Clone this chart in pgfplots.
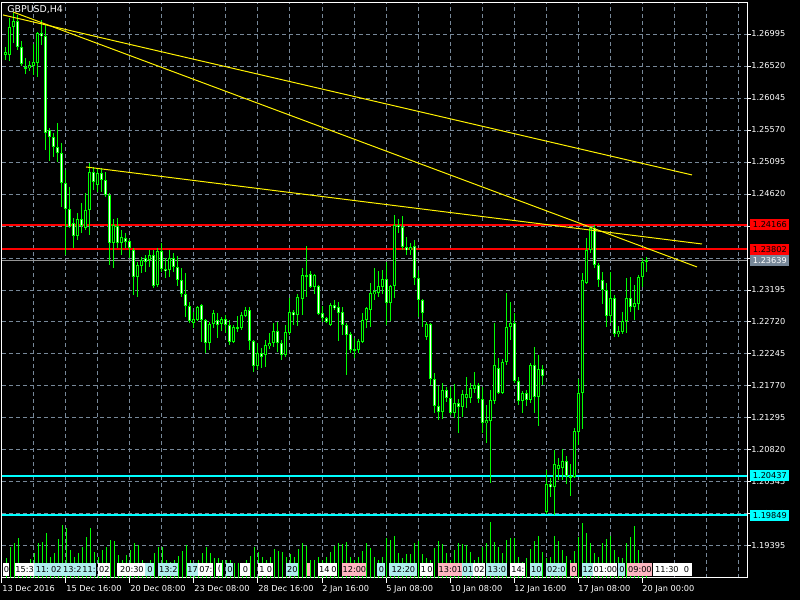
\documentclass[border=0pt]{standalone}
\usepackage{fontspec}
\setmainfont{DejaVu Sans}
\usepackage{pgfplots}
\usepackage{pgfplotstable}
\pgfplotsset{compat=1.18}

\definecolor{mtgreen}{RGB}{0,255,0}
\definecolor{mtgrid}{RGB}{119,136,153}
\definecolor{mtcyan}{RGB}{0,255,255}
\definecolor{bidgray}{RGB}{150,150,150}
\definecolor{bidbox}{RGB}{119,136,153}
\definecolor{lblcyan}{RGB}{175,238,238}
\definecolor{lblpink}{RGB}{255,182,193}
\definecolor{arrowblue}{RGB}{0,191,255}
\definecolor{sellred}{RGB}{230,60,30}

% GBPUSD H4 bars: index, open, high, low, close, tick volume
\pgfplotstableread{
i o h l c v
0 1.26684 1.26802 1.26609 1.26728 2000
1 1.26684 1.27233 1.26594 1.27099 3100
2 1.27099 1.27307 1.26861 1.27188 3500
3 1.27188 1.27278 1.26758 1.26802 4000
4 1.26802 1.26891 1.26520 1.26550 1500
5 1.26505 1.26639 1.26402 1.26490 1200
6 1.26490 1.26594 1.26446 1.26535 1900
7 1.26520 1.26847 1.26387 1.26579 2500
8 1.26564 1.27025 1.26357 1.27010 3500
9 1.27010 1.27203 1.26832 1.26966 3600
10 1.26966 1.27129 1.25274 1.25526 4500
11 1.25571 1.25600 1.25110 1.25467 2100
12 1.25467 1.25526 1.25170 1.25318 2500
13 1.25318 1.25674 1.25095 1.25229 3900
14 1.25229 1.25377 1.24427 1.24783 5300
15 1.24783 1.24977 1.23715 1.24397 5000
16 1.24397 1.24724 1.24115 1.24130 2800
17 1.24189 1.24264 1.23818 1.23997 2100
18 1.23997 1.24338 1.23937 1.24249 2500
19 1.24249 1.24486 1.24041 1.24145 3100
20 1.24115 1.24635 1.24086 1.24383 4100
21 1.24383 1.25080 1.24012 1.24947 5000
22 1.24947 1.25021 1.24680 1.24798 2600
23 1.24754 1.25006 1.24650 1.24932 2100
24 1.24932 1.25006 1.24650 1.24828 2800
25 1.24828 1.24947 1.24576 1.24606 3100
26 1.24606 1.24635 1.23566 1.23892 3800
27 1.23892 1.24249 1.23521 1.24160 3700
28 1.24145 1.24264 1.23818 1.23892 2300
29 1.23892 1.24086 1.23715 1.23982 1800
30 1.23967 1.24041 1.23818 1.23907 2300
31 1.23922 1.23952 1.23670 1.23818 2800
32 1.23789 1.23818 1.23121 1.23388 3500
33 1.23388 1.23611 1.23091 1.23566 3300
34 1.23551 1.23685 1.23447 1.23640 1800
35 1.23670 1.23715 1.23462 1.23611 1500
36 1.23640 1.23789 1.23537 1.23715 1800
37 1.23715 1.23789 1.23225 1.23254 2500
38 1.23269 1.23818 1.23240 1.23774 3100
39 1.23774 1.23892 1.23462 1.23507 3100
40 1.23507 1.23670 1.23374 1.23477 1800
41 1.23492 1.23789 1.23388 1.23670 1600
42 1.23670 1.23744 1.23462 1.23537 1800
43 1.23537 1.23700 1.23254 1.23344 2200
44 1.23344 1.23521 1.23091 1.23136 2700
45 1.23136 1.23447 1.22795 1.22958 3300
46 1.22958 1.23017 1.22705 1.22735 1800
47 1.22705 1.22869 1.22631 1.22765 1500
48 1.22750 1.22958 1.22735 1.22943 1800
49 1.22973 1.22988 1.22423 1.22750 2500
50 1.22750 1.22765 1.22260 1.22408 3100
51 1.22408 1.22720 1.22305 1.22690 2500
52 1.22690 1.22899 1.22631 1.22854 2000
53 1.22750 1.22854 1.22483 1.22676 2000
54 1.22690 1.22795 1.22586 1.22765 1800
55 1.22765 1.22824 1.22557 1.22676 1800
56 1.22676 1.22750 1.22378 1.22423 1800
57 1.22423 1.22676 1.22408 1.22646 1500
58 1.22646 1.22809 1.22572 1.22631 1500
59 1.22631 1.22869 1.22601 1.22824 1500
60 1.22809 1.22943 1.22795 1.22899 1800
61 1.22899 1.22943 1.22305 1.22438 2200
62 1.22438 1.22453 1.21978 1.22067 3100
63 1.22067 1.22408 1.22008 1.22260 2600
64 1.22260 1.22334 1.22037 1.22201 2100
65 1.22230 1.22453 1.22052 1.22378 1800
66 1.22364 1.22557 1.22319 1.22408 2100
67 1.22408 1.22705 1.22349 1.22586 2900
68 1.22586 1.22720 1.22275 1.22408 2700
69 1.22408 1.22453 1.22156 1.22230 2600
70 1.22230 1.22676 1.22201 1.22572 2100
71 1.22557 1.23076 1.22527 1.22869 2400
72 1.22869 1.22899 1.22676 1.22824 2100
73 1.22824 1.23136 1.22661 1.23091 2900
74 1.23062 1.23521 1.22824 1.23418 3500
75 1.23418 1.23848 1.23091 1.23403 3200
76 1.23433 1.23477 1.23225 1.23240 1800
77 1.23240 1.23433 1.23136 1.23418 1800
78 1.23254 1.23269 1.22824 1.22839 2100
79 1.22854 1.22958 1.22720 1.22780 1800
80 1.22780 1.22795 1.22705 1.22720 2100
81 1.22676 1.23002 1.22661 1.22973 2600
82 1.22973 1.23047 1.22899 1.22928 3200
83 1.22943 1.23017 1.22438 1.22854 3500
84 1.22869 1.22943 1.22527 1.22676 3400
85 1.22676 1.22705 1.21934 1.22527 3600
86 1.22542 1.22572 1.22260 1.22305 2100
87 1.22305 1.22483 1.22186 1.22319 1800
88 1.22305 1.22468 1.22260 1.22438 2100
89 1.22423 1.22854 1.22408 1.22750 2700
90 1.22750 1.22943 1.22631 1.22928 3500
91 1.22899 1.23299 1.22646 1.23151 3000
92 1.23136 1.23521 1.23047 1.23180 2100
93 1.23151 1.23477 1.23091 1.23254 1800
94 1.23240 1.23492 1.23136 1.23358 2100
95 1.23358 1.23611 1.22676 1.23002 4000
96 1.23002 1.23269 1.22735 1.23254 3800
97 1.23254 1.24308 1.23076 1.24160 4200
98 1.24160 1.24249 1.24041 1.24130 2500
99 1.24130 1.24294 1.23789 1.23833 2000
100 1.23833 1.23982 1.23715 1.23789 2400
101 1.23789 1.23892 1.23715 1.23833 2400
102 1.23848 1.23937 1.23269 1.23373 3500
103 1.23373 1.23492 1.22795 1.23047 3700
104 1.23047 1.23062 1.22646 1.22854 2400
105 1.22498 1.22720 1.22453 1.22690 2000
106 1.22690 1.22705 1.21785 1.21874 1800
107 1.21874 1.21963 1.21369 1.21473 3000
108 1.21473 1.21770 1.21265 1.21384 3700
109 1.21384 1.21815 1.21280 1.21711 3400
110 1.21711 1.21755 1.21532 1.21592 2500
111 1.21592 1.21755 1.21339 1.21369 1800
112 1.21369 1.21800 1.21295 1.21517 2800
113 1.21517 1.21577 1.21072 1.21458 3500
114 1.21458 1.21711 1.21310 1.21651 3400
115 1.21592 1.21904 1.21443 1.21651 3300
116 1.21592 1.21815 1.21517 1.21740 2600
117 1.21726 1.21978 1.21666 1.21785 1800
118 1.21785 1.21815 1.21517 1.21577 2100
119 1.21577 1.21755 1.21072 1.21221 3100
120 1.21221 1.21488 1.20923 1.21265 3500
121 1.21250 1.21711 1.20329 1.21562 5600
122 1.21547 1.22705 1.21503 1.22082 3600
123 1.22037 1.22186 1.21651 1.21666 3100
124 1.21666 1.22171 1.21651 1.22127 2500
125 1.22127 1.23151 1.22082 1.22646 3800
126 1.22646 1.23017 1.22453 1.22705 4000
127 1.22705 1.22854 1.21815 1.21844 4000
128 1.21844 1.21904 1.21488 1.21547 2100
129 1.21547 1.21696 1.21369 1.21666 1600
130 1.21666 1.21711 1.21473 1.21562 2000
131 1.21562 1.22112 1.21517 1.22082 2900
132 1.22082 1.22349 1.21369 1.21607 3700
133 1.21607 1.22230 1.21176 1.22023 4200
134 1.22023 1.22082 1.21785 1.21919 2600
135 1.19900 1.20523 1.19870 1.20315 2000
136 1.20315 1.20404 1.20122 1.20271 2100
137 1.20271 1.20820 1.19855 1.20612 4200
138 1.20538 1.20701 1.20375 1.20597 3700
139 1.20553 1.20835 1.20375 1.20657 2800
140 1.20657 1.20731 1.20315 1.20434 2200
141 1.20434 1.20612 1.20137 1.20419 1800
142 1.20419 1.21147 1.20404 1.21102 2700
143 1.21087 1.21874 1.20894 1.21666 4100
144 1.21666 1.23447 1.21132 1.23344 5500
145 1.23299 1.23967 1.23284 1.23789 4500
146 1.23789 1.24130 1.23744 1.24115 3500
147 1.24115 1.24160 1.23521 1.23566 2500
148 1.23566 1.23596 1.23240 1.23344 2100
149 1.23344 1.23462 1.22988 1.23195 3500
150 1.23195 1.23299 1.22646 1.22809 3900
151 1.22809 1.23462 1.22705 1.23076 4200
152 1.23076 1.23121 1.22498 1.22542 2800
153 1.22542 1.22661 1.22498 1.22586 2100
154 1.22572 1.22869 1.22542 1.22735 2000
155 1.22735 1.23374 1.22557 1.23076 3500
156 1.23076 1.23388 1.22869 1.22943 4100
157 1.22943 1.23269 1.22750 1.23002 5200
158 1.22988 1.23418 1.22899 1.23388 2800
159 1.23388 1.23670 1.23240 1.23611 1200
160 1.23611 1.23685 1.23462 1.23639 500
}\gbp

\newcommand{\lblfont}{\fontsize{4.1pt}{4.7pt}\selectfont}
% label of a chart object in the bottom row, x from/to in screen pixels
\newcommand{\objlbl}[4]{%
  \node[fill=#3, text=black, inner sep=0pt, anchor=south west,
        minimum width={(#2-#1)*0.5pt}, minimum height=6.5pt, font=\lblfont]
        at ({#1*0.5pt},12pt) {#4};}

\begin{document}
\begin{tikzpicture}
\fill[black, use as bounding box] (0,0) rectangle (400pt,300pt);

\begin{axis}[
    at={(1pt,11pt)}, anchor=south west,
    scale only axis, width=372.5pt, height=288pt,
    xmin=-1, xmax=185.25,
    ymin=1.18920, ymax=1.27470,
    axis line style={white, line width=0.5pt},
    tick align=outside,
    major tick length=2pt,
    xtick pos=bottom, ytick pos=right,
    xtick={7,15,...,183}, xticklabels={},
    xtick style={draw=none},
    extra x ticks={-1,15,31,47,63,79,95,111,127,143,159},
    extra x tick labels={13 Dec 2016,15 Dec 16:00,20 Dec 08:00,23 Dec 08:00,28 Dec 16:00,2 Jan 16:00,5 Jan 08:00,10 Jan 08:00,12 Jan 16:00,17 Jan 08:00,20 Jan 00:00},
    extra x tick style={grid=none, xtick style={draw=white, line width=0.5pt}, major tick length=2.5pt},
    ytick={1.19395,1.19870,1.20345,1.20820,1.21295,1.21770,1.22245,1.22720,1.23195,1.23670,1.24145,1.24620,1.25095,1.25570,1.26045,1.26520,1.26995},
    yticklabels={1.19395,1.19870,1.20345,1.20820,1.21295,1.21770,1.22245,1.22720,1.23195,1.23670,1.24145,1.24620,1.25095,1.25570,1.26045,1.26520,1.26995},
    ytick style={draw=white, line width=0.5pt},
    ticklabel style={font=\lblfont, text=white},
    xticklabel style={anchor=north west, inner sep=0pt, yshift=-1pt},
    yticklabel style={anchor=west, inner sep=0pt},
    xmajorgrids, ymajorgrids,
    grid style={mtgrid, dash pattern=on 2pt off 1.5pt, line width=0.5pt},
]
% level lines
\addplot[red, line width=1pt] coordinates {(-1,1.24166) (185.25,1.24166)};
\addplot[red, line width=1pt] coordinates {(-1,1.23802) (185.25,1.23802)};
\addplot[bidgray, line width=0.5pt] coordinates {(-1,1.23639) (185.25,1.23639)};
\addplot[mtcyan, line width=1pt] coordinates {(-1,1.20437) (185.25,1.20437)};
\addplot[mtcyan, line width=1pt] coordinates {(-1,1.19849) (185.25,1.19849)};

% wicks
\addplot[draw=none, error bars/.cd, y dir=both, y explicit, error mark=none,
    error bar style={draw=mtgreen, line width=0.5pt}]
    table[x=i, y expr={(\thisrow{h}+\thisrow{l})/2}, y error expr={(\thisrow{h}-\thisrow{l})/2}] {\gbp};
% bodies: green outline
\addplot[draw=none, error bars/.cd, y dir=both, y explicit, error mark=none,
    error bar style={draw=mtgreen, line width=1.5pt}]
    table[x=i, y expr={(\thisrow{o}+\thisrow{c})/2}, y error expr={max(abs(\thisrow{o}-\thisrow{c})/2,0.000075)}] {\gbp};
% bearish bodies filled white
\addplot[draw=none, error bars/.cd, y dir=both, y explicit, error mark=none,
    error bar style={draw=white, line width=0.5pt}]
    table[x=i, y expr={(\thisrow{o}+\thisrow{c})/2}, y error expr={(\thisrow{o}>\thisrow{c})*max(abs(\thisrow{o}-\thisrow{c})/2-0.00014,0)}] {\gbp};
% bullish bodies hollow
\addplot[draw=none, error bars/.cd, y dir=both, y explicit, error mark=none,
    error bar style={draw=black, line width=0.5pt}]
    table[x=i, y expr={(\thisrow{o}+\thisrow{c})/2}, y error expr={(\thisrow{o}<\thisrow{c})*max(abs(\thisrow{o}-\thisrow{c})/2-0.00014,0)}] {\gbp};

% trend lines
\addplot[yellow, line width=0.5pt] coordinates {(-0.75,1.27278) (171.5,1.24903)};
\addplot[yellow, line width=0.5pt] coordinates {(1.75,1.27322) (172.75,1.23537)};
\addplot[yellow, line width=0.5pt] coordinates {(20,1.25021) (174,1.23878)};

\coordinate (r1) at (axis cs:185.25,1.24166);
\coordinate (r2) at (axis cs:185.25,1.23802);
\coordinate (bid) at (axis cs:185.25,1.23639);
\coordinate (c1) at (axis cs:185.25,1.20437);
\coordinate (c2) at (axis cs:185.25,1.19849);
\end{axis}

% volumes
\begin{axis}[
    at={(1pt,11pt)}, anchor=south west,
    scale only axis, width=372.5pt, height=288pt,
    xmin=-1, xmax=185.25, ymin=0, ymax=57600,
    hide axis,
]
\addplot[ycomb, draw=mtgreen, line width=0.5pt, mark=none] table[x=i, y=v] {\gbp};
\end{axis}

% price labels on the right
\foreach \p/\f/\t/\s in {r1/red/black/1.24166, r2/red/black/1.23802, bid/bidbox/white/1.23639, c1/mtcyan/black/1.20437, c2/mtcyan/black/1.19849}
  \node[fill=\f, text=\t, anchor=west, inner sep=0pt, minimum width=19.5pt,
        minimum height=5.5pt, font=\lblfont] at ([xshift=1.5pt]\p) {\s};

% title
\node[anchor=north west, text=white, inner sep=0pt, font=\fontsize{4.7pt}{5pt}\selectfont]
  at (3.5pt,297.5pt) {GBPUSD,H4};

% arrows
\draw[arrowblue, line width=0.8pt] (344,147.5) -- (349.5,147.5) -- (349.5,141) -- (352.5,141)
  -- (347,135) -- (341.5,141) -- (344,141) -- cycle;
\filldraw[fill=sellred, draw=white, line width=0.3pt] (184,149) -- (186.5,149) -- (186.5,147)
  -- (187.5,147) -- (185.25,144.5) -- (183,147) -- (184,147) -- cycle;

% object labels along the bottom
\objlbl{3}{9}{white}{0}
\objlbl{15}{33}{white}{15:3}
\objlbl{34}{50}{lblcyan}{11:}
\objlbl{50}{62}{lblcyan}{02}
\objlbl{62}{82}{lblcyan}{13:2}
\objlbl{82}{93}{lblcyan}{11:}
\objlbl{98}{110}{white}{02}
\objlbl{117}{146}{white}{20:30}
\objlbl{145}{154}{lblcyan}{0}
\objlbl{158}{178}{lblcyan}{13:2}
\objlbl{187}{197}{lblcyan}{17}
\objlbl{198}{213}{white}{07:}
\objlbl{216}{222}{white}{(}
\objlbl{226}{233}{lblcyan}{0}
\objlbl{240}{250}{white}{0}
\objlbl{258}{265}{white}{1}
\objlbl{265}{273}{white}{0}
\objlbl{286}{298}{lblcyan}{20}
\objlbl{307}{310}{lblpink}{}
\objlbl{318}{330}{white}{14}
\objlbl{330}{337}{white}{0}
\objlbl{342}{366}{lblpink}{12:00}
\objlbl{377}{385}{lblcyan}{0}
\objlbl{389}{417}{lblcyan}{12:20}
\objlbl{420}{426}{white}{1}
\objlbl{426}{433}{white}{0}
\objlbl{438}{462}{lblpink}{13:01}
\objlbl{462}{473}{lblcyan}{01}
\objlbl{473}{485}{white}{02}
\objlbl{486}{507}{lblcyan}{13:0}
\objlbl{510}{525}{white}{14:}
\objlbl{530}{542}{lblcyan}{10}
\objlbl{546}{566}{lblcyan}{02:0}
\objlbl{570}{577}{lblpink}{0}
\objlbl{582}{593}{lblcyan}{12}
\objlbl{593}{617}{white}{01:00}
\objlbl{618}{625}{lblcyan}{0}
\objlbl{627}{652}{lblpink}{09:00}
\objlbl{653}{680}{white}{11:30}
\objlbl{680}{692}{white}{0}
\end{tikzpicture}
\end{document}
